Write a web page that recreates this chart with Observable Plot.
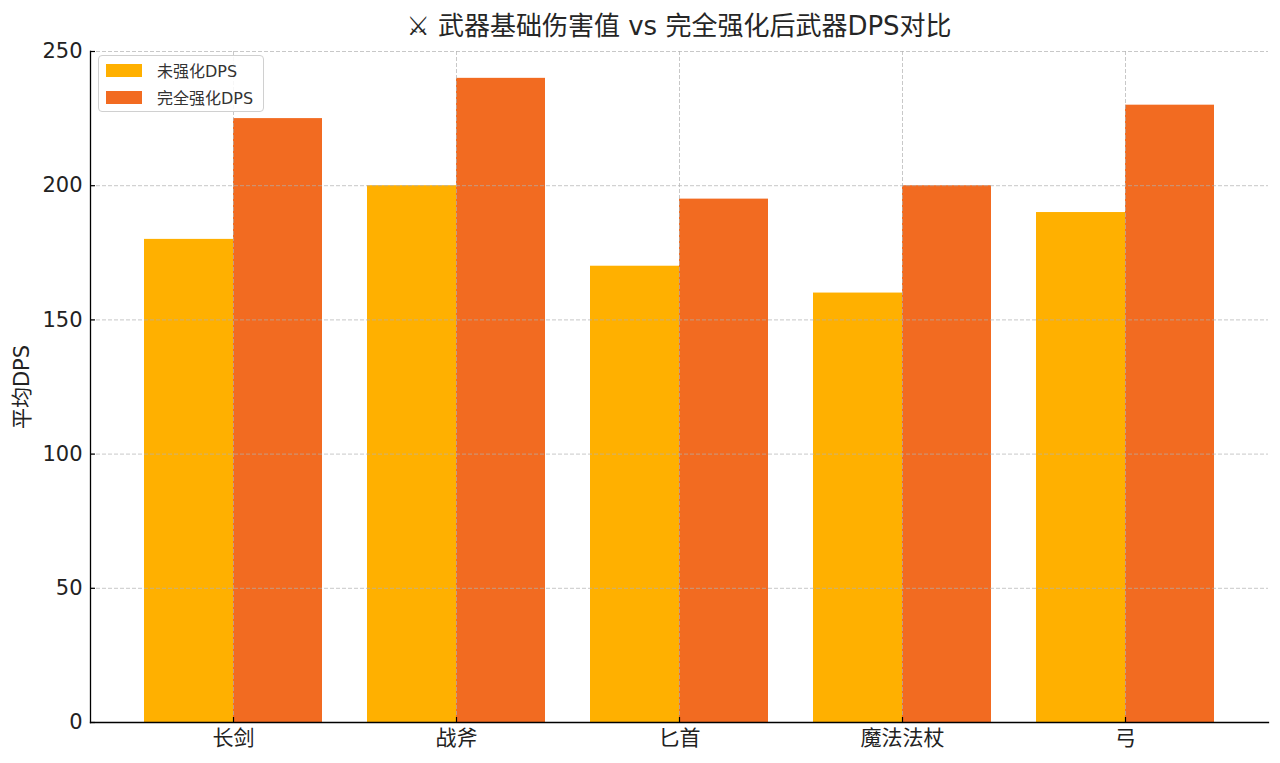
<!DOCTYPE html>
<html>
<head>
<meta charset="utf-8">
<script src="https://cdn.jsdelivr.net/npm/d3@7"></script>
<script src="https://cdn.jsdelivr.net/npm/@observablehq/plot@0.6"></script>
<style>
  html, body { margin: 0; padding: 0; background: #fff; }
  #wrap { position: relative; width: 1280px; height: 763px; font-family: "DejaVu Sans", "Noto Sans CJK SC", sans-serif; }
  #title { position: absolute; left: 90px; width: 1178px; top: 8px; text-align: center; font-size: 26px; font-weight: normal; line-height: 36px; color: #262626; }
  #chart { position: absolute; left: 0; top: 40px; }
  #legend { position: absolute; left: 98px; top: 55px; height: 57px; padding-right: 10px; border: 1px solid #d0d0d0; border-radius: 4px; background: rgba(255,255,255,0.85); box-sizing: border-box; white-space: nowrap; }
  .row { position: relative; margin-left: 7px; height: 20px; display: flex; align-items: center; font-size: 16px; color: #333; }
  .sw { width: 36px; height: 13px; margin-right: 15px; flex: none; }
</style>
</head>
<body>
<div id="wrap">
  <div id="title"></div>
  <div id="chart"></div>
  <div id="legend"></div>
</div>
<script>
const titleText = "⚔ 武器基础伤害值 vs 完全强化后武器DPS对比";
const yLabel = "平均DPS";
const categories = ["长剑", "战斧", "匕首", "魔法法杖", "弓"];
const seriesNames = ["未强化DPS", "完全强化DPS"];
const baseDPS = [180, 200, 170, 160, 190];
const enhancedDPS = [225, 240, 195, 200, 230];
const seriesColors = ["#FFB000", "#F26B21"];
const yTicks = [0, 50, 100, 150, 200, 250];

const fontFamily = `"DejaVu Sans", "Noto Sans CJK SC", sans-serif`;

const rows = categories.flatMap((c, i) => [
  {category: c, series: seriesNames[0], value: baseDPS[i]},
  {category: c, series: seriesNames[1], value: enhancedDPS[i]}
]);

document.getElementById("title").textContent = titleText;

const gridStyle = {stroke: "#b0b0b0", strokeOpacity: 0.7, strokeWidth: 1, strokeDasharray: "4,2"};

const chart = Plot.plot({
  width: 1280,
  height: 723,
  marginTop: 11,
  marginBottom: 41,
  marginLeft: 90,
  marginRight: 12,
  style: {fontFamily, fontSize: "21px", color: "#222", background: "white", overflow: "visible"},
  x: {domain: categories, paddingInner: 0.2018, paddingOuter: 0.2377},
  y: {domain: [0, 250]},
  color: {domain: seriesNames, range: seriesColors},
  marks: [
    Plot.barY(rows.filter(d => d.series === seriesNames[0]), {x: "category", y: "value", fill: "series", insetRight: 89}),
    Plot.barY(rows.filter(d => d.series === seriesNames[1]), {x: "category", y: "value", fill: "series", insetLeft: 89}),
    Plot.gridY(yTicks, gridStyle),
    Plot.gridX(categories, gridStyle),
    Plot.frame({anchor: "left", stroke: "#000", strokeWidth: 1.3}),
    Plot.frame({anchor: "bottom", stroke: "#000", strokeWidth: 1.3}),
    Plot.ruleX(categories, {x: d => d, insetTop: 666, stroke: "#000", strokeWidth: 1.2}),
    Plot.ruleY(yTicks, {y: d => d, insetRight: 1173, stroke: "#000", strokeWidth: 1.2}),
    Plot.axisX({tickSize: 0, tickPadding: 8, label: null, fontSize: 21}),
    Plot.axisY(yTicks, {tickSize: 0, tickPadding: 8, fontSize: 21, label: yLabel, labelArrow: "none", labelAnchor: "center", labelOffset: 76})
  ]
});
document.getElementById("chart").appendChild(chart);

const legend = document.getElementById("legend");
seriesNames.forEach((name, i) => {
  const row = document.createElement("div");
  row.className = "row";
  row.style.marginTop = (i === 0 ? 4 : 7) + "px";
  const sw = document.createElement("div");
  sw.className = "sw";
  sw.style.background = seriesColors[i];
  const t = document.createElement("span");
  t.textContent = name;
  row.appendChild(sw);
  row.appendChild(t);
  legend.appendChild(row);
});
</script>
</body>
</html>
